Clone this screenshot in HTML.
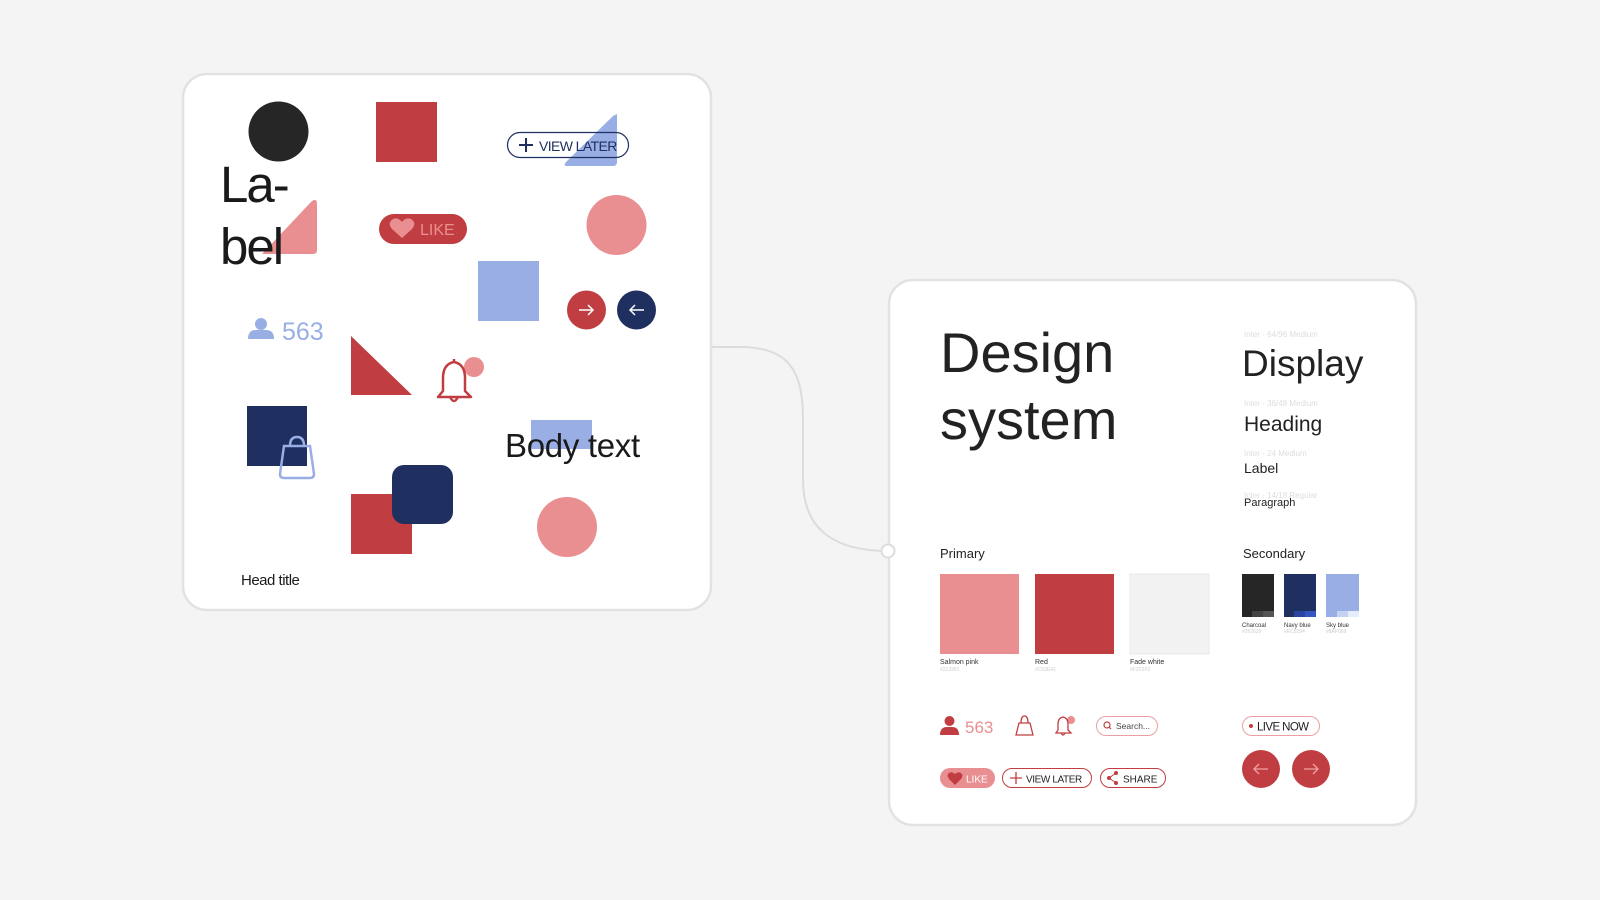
<!DOCTYPE html>
<html><head><meta charset="utf-8"><style>
html,body{margin:0;padding:0;background:#f4f4f4;}
svg{display:block}
text{font-family:"Liberation Sans",sans-serif;}
</style></head><body>
<svg width="1600" height="900" viewBox="0 0 1600 900" xmlns="http://www.w3.org/2000/svg">
<rect width="1600" height="900" fill="#f4f4f4"/>
<path d="M711,347 H740 C790,347 803,372 803,420 V480 C803,530 835,551 888,551" fill="none" stroke="#dcdcdc" stroke-width="2"/>
<rect x="183" y="74" width="528" height="536" rx="24" fill="#fff" stroke="#e2e2e2" stroke-width="2.5"/>
<circle cx="278.5" cy="131.5" r="30" fill="#262626"/>
<rect x="376" y="102" width="61" height="60" fill="#c03e41"/>
<path d="M617,114 L617,162 Q617,166 613,166 L567,166 Q563,166 566,162 L613,116 Z" fill="#98aee5"/>
<rect x="507.5" y="132.5" width="121" height="25" rx="12.5" fill="none" stroke="#1f2f5f" stroke-width="1.2"/>
<path d="M519,145 h14 M526,138 v14" stroke="#1f2f5f" stroke-width="2"/>
<text x="539" y="151" font-size="14" fill="#1f2f5f" letter-spacing="-0.6">VIEW LATER</text>
<path d="M317,204 L317,250 Q317,254 313,254 L262,254 L311,202 Q317,197 317,204 Z" fill="#ea8f91"/>
<text x="220" y="202" font-size="51" fill="#1a1a1a" letter-spacing="-2">La-</text>
<text x="220" y="264" font-size="51" fill="#1a1a1a" letter-spacing="-2">bel</text>
<rect x="379" y="214" width="88" height="30" rx="15" fill="#c03e41"/>
<path d="M402,238 L392,229 Q387,223 393,219 Q398,217 402,222 Q406,217 411,219 Q417,223 412,229 Z" fill="#ea8f91"/>
<text x="420" y="235" font-size="16" fill="#ea8f91">LIKE</text>
<circle cx="616.5" cy="225" r="30" fill="#ea8f91"/>
<rect x="478" y="261" width="61" height="60" fill="#98aee5"/>
<circle cx="586.5" cy="310" r="19.5" fill="#c03e41"/>
<path d="M579,310 h14 M588,305 l5,5 -5,5" fill="none" stroke="#fff" stroke-width="1.5"/>
<circle cx="636.5" cy="310" r="19.5" fill="#1f2f5f"/>
<path d="M644,310 h-14 M635,305 l-5,5 5,5" fill="none" stroke="#fff" stroke-width="1.5"/>
<circle cx="261" cy="324" r="6" fill="#98aee5"/>
<path d="M248,339 Q248,330 256,330 L266,330 Q274,330 274,339 Z" fill="#98aee5"/>
<text x="282" y="340" font-size="25" fill="#98aee5">563</text>
<path d="M351,336 L412,395 L351,395 Z" fill="#c03e41"/>
<circle cx="474" cy="367" r="10" fill="#ea8f91"/>
<path d="M438,397 L443,391 L443,378 Q443,364 454,362 Q465,364 465,378 L465,391 L471,397 Z M450,397 Q454,405 458,397 M454,362 v-3" fill="none" stroke="#c03e41" stroke-width="2.5" stroke-linejoin="round"/>
<rect x="247" y="406" width="60" height="60" fill="#1f2f5f"/>
<path d="M284,446 L310,446 L314,474 Q314,478 310,478 L284,478 Q280,478 280,474 Z M290,446 Q290,437 297,437 Q304,437 304,446" fill="none" stroke="#98aee5" stroke-width="2.5"/>
<rect x="531" y="420" width="61" height="29" fill="#98aee5"/>
<text x="505" y="457" font-size="33" fill="#1a1a1a" letter-spacing="-0.3">Body text</text>
<rect x="351" y="494" width="61" height="60" fill="#c03e41"/>
<rect x="392" y="465" width="61" height="59" rx="12" fill="#1f2f5f"/>
<circle cx="567" cy="527" r="30" fill="#ea8f91"/>
<text x="241" y="585" font-size="15" fill="#1a1a1a" letter-spacing="-0.5">Head title</text>

<rect x="889" y="280" width="527" height="545" rx="24" fill="#fff" stroke="#e2e2e2" stroke-width="2.5"/>
<circle cx="888" cy="551" r="6.5" fill="#fff" stroke="#dcdcdc" stroke-width="2"/>
<text x="940" y="372" font-size="56" fill="#222">Design</text>
<text x="940" y="439" font-size="56" fill="#222">system</text>
<text x="1244" y="337" font-size="8" fill="#ddd">Inter - 64/96 Medium</text>
<text x="1242" y="376" font-size="37" fill="#222">Display</text>
<text x="1244" y="406" font-size="8" fill="#ddd">Inter - 36/48 Medium</text>
<text x="1244" y="431" font-size="21" fill="#222">Heading</text>
<text x="1244" y="456" font-size="8" fill="#ddd">Inter - 24 Medium</text>
<text x="1244" y="473" font-size="14" fill="#222">Label</text>
<text x="1244" y="498" font-size="8" fill="#ddd">Inter - 14/18 Regular</text>
<text x="1244" y="506" font-size="11" fill="#222">Paragraph</text>

<text x="940" y="558" font-size="13" fill="#222">Primary</text>
<rect x="940" y="574" width="79" height="80" fill="#ea8f91"/>
<rect x="1035" y="574" width="79" height="80" fill="#c03e41"/>
<rect x="1130" y="574" width="79" height="80" fill="#f2f2f2" stroke="#eaeaea"/>
<text x="940" y="664" font-size="7" fill="#333">Salmon pink</text>
<text x="940" y="671" font-size="5" fill="#ccc">#213261</text>
<text x="1035" y="664" font-size="7" fill="#333">Red</text>
<text x="1035" y="671" font-size="5" fill="#ccc">#C03E41</text>
<text x="1130" y="664" font-size="7" fill="#333">Fade white</text>
<text x="1130" y="671" font-size="5" fill="#ccc">#F2F2F2</text>

<text x="1243" y="558" font-size="13" fill="#222">Secondary</text>
<rect x="1242" y="574" width="32" height="43" fill="#262626"/>
<rect x="1252" y="611" width="11" height="6" fill="#444"/><rect x="1263" y="611" width="11" height="6" fill="#555"/>
<rect x="1284" y="574" width="32" height="43" fill="#1f2f5f"/>
<rect x="1294" y="611" width="11" height="6" fill="#2a44a0"/><rect x="1305" y="611" width="11" height="6" fill="#3556c0"/>
<rect x="1326" y="574" width="33" height="43" fill="#98aee5"/>
<rect x="1337" y="611" width="11" height="6" fill="#c5d2f2"/><rect x="1348" y="611" width="11" height="6" fill="#e6ecfa"/>
<text x="1242" y="627" font-size="6" fill="#333">Charcoal</text>
<text x="1242" y="633" font-size="5" fill="#ccc">#262626</text>
<text x="1284" y="627" font-size="6" fill="#333">Navy blue</text>
<text x="1284" y="633" font-size="5" fill="#ccc">#EC9294</text>
<text x="1326" y="627" font-size="6" fill="#333">Sky blue</text>
<text x="1326" y="633" font-size="5" fill="#ccc">#8AF069</text>

<circle cx="949.5" cy="721" r="5" fill="#c03e41"/>
<path d="M940,735 Q940,727 947,727 L952,727 Q959,727 959,735 Z" fill="#c03e41"/>
<text x="965" y="733" font-size="17" fill="#ea8f91">563</text>
<path d="M1019,723 L1030,723 L1033,735 L1016,735 Z M1021,723 Q1021,716 1024.5,716 Q1028,716 1028,723" fill="none" stroke="#c03e41" stroke-width="1.3"/>
<circle cx="1071" cy="720" r="4" fill="#ea8f91"/>
<path d="M1056,733 L1058,730 L1058,724 Q1058,718 1063,717 Q1068,718 1068,724 L1068,730 L1071,733 Z M1061,733 Q1063,737 1065,733" fill="none" stroke="#c03e41" stroke-width="1.3"/>
<rect x="1096.5" y="716.5" width="61" height="19" rx="9.5" fill="#fff" stroke="#eaa0a2"/>
<circle cx="1107" cy="725" r="3" fill="none" stroke="#c03e41" stroke-width="1.2"/><path d="M1109,727 l2,2" stroke="#c03e41" stroke-width="1.2"/>
<text x="1116" y="729" font-size="8.5" fill="#444">Search...</text>
<rect x="1242.5" y="716.5" width="77" height="19" rx="9.5" fill="#fff" stroke="#eaa0a2"/>
<circle cx="1251" cy="726" r="2" fill="#c03e41"/>
<text x="1257" y="730.5" font-size="11.5" fill="#222" letter-spacing="-0.6">LIVE NOW</text>

<rect x="940" y="768" width="55" height="20" rx="10" fill="#ea8f91"/>
<path d="M955,785 L949,779 Q946,775 949,773 Q952,771 955,774 Q958,771 961,773 Q964,775 961,779 Z" fill="#c03e41"/>
<text x="966" y="782.5" font-size="10" fill="#fff">LIKE</text>
<rect x="1002.5" y="768.5" width="89" height="19" rx="9.5" fill="#fff" stroke="#c03e41"/>
<path d="M1010,778 h12 M1016,772 v12" stroke="#c03e41" stroke-width="1.3"/>
<text x="1026" y="782.5" font-size="10" fill="#222" letter-spacing="-0.4">VIEW LATER</text>
<rect x="1100.5" y="768.5" width="65" height="19" rx="9.5" fill="#fff" stroke="#c03e41"/>
<path d="M1116,773 L1109,778 L1116,783" fill="none" stroke="#c03e41" stroke-width="1"/>
<circle cx="1109" cy="778" r="2" fill="#c03e41"/><circle cx="1116" cy="773" r="2" fill="#c03e41"/><circle cx="1116" cy="783" r="2" fill="#c03e41"/>
<text x="1123" y="782.5" font-size="10" fill="#222">SHARE</text>
<circle cx="1261" cy="769" r="19" fill="#c03e41"/>
<path d="M1268,769 h-14 M1259,764 l-5,5 5,5" fill="none" stroke="#f0a0a2" stroke-width="1.3"/>
<circle cx="1311" cy="769" r="19" fill="#c03e41"/>
<path d="M1304,769 h14 M1313,764 l5,5 -5,5" fill="none" stroke="#f0a0a2" stroke-width="1.3"/>
</svg>
</body></html>
